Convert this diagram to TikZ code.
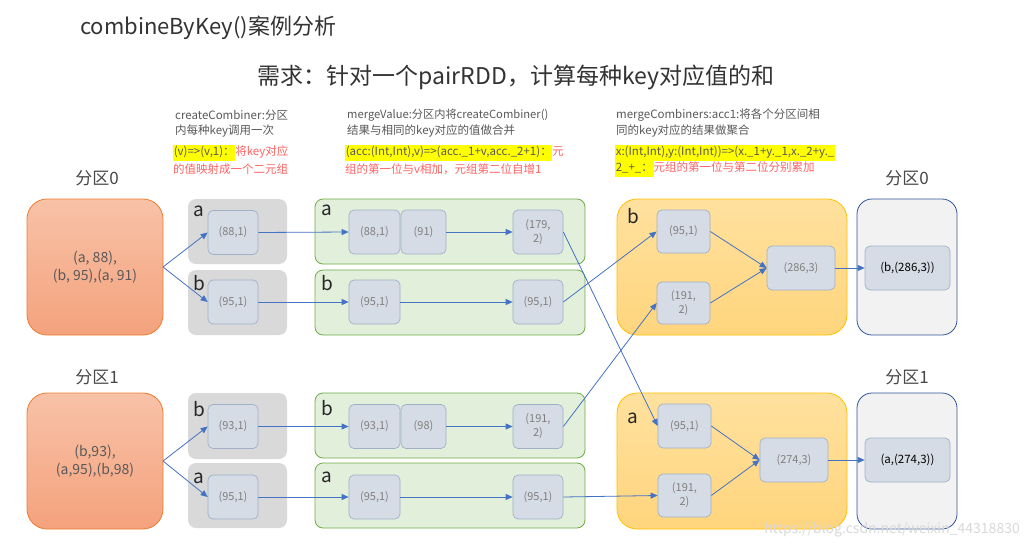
\documentclass[tikz,border=0pt]{standalone}
\usepackage{fontspec}
\setmainfont{Noto Sans CJK SC}
\usetikzlibrary{arrows.meta}
\definecolor{orBorder}{HTML}{ED7D31}
\definecolor{orTop}{HTML}{F8C2A8}
\definecolor{orBot}{HTML}{F4A27C}
\definecolor{grFill}{HTML}{D9D9D9}
\definecolor{gnFill}{HTML}{E2EFDA}
\definecolor{gnBorder}{HTML}{70AD47}
\definecolor{yeTop}{HTML}{FFE19E}
\definecolor{yeBot}{HTML}{FFD57D}
\definecolor{yeBorder}{HTML}{FFC000}
\definecolor{rtFill}{HTML}{F2F2F2}
\definecolor{rtBorder}{HTML}{2F5597}
\definecolor{itFill}{HTML}{D6DCE5}
\definecolor{itBorder}{HTML}{A0B0C8}
\definecolor{itText}{HTML}{7F7F7F}
\definecolor{arrCol}{HTML}{4472C4}
\definecolor{descCol}{HTML}{595959}
\definecolor{redTxt}{HTML}{FF6363}
\definecolor{hiYel}{HTML}{FFFF00}
\definecolor{wmCol}{HTML}{D9D9D9}
\setlength{\fboxsep}{0.6pt}
\newcommand{\hlt}[1]{\colorbox{hiYel}{\strut #1}}
\begin{document}
\begin{tikzpicture}[x=1pt,y=-1pt,
  container/.style={anchor=north west, inner sep=0pt, outer sep=0pt},
  orangebox/.style={container, draw=orBorder, line width=0.8pt, rounded corners=20pt,
     top color=orTop, bottom color=orBot, minimum width=136pt, minimum height=136pt,
     text=descCol, font=\fontsize{14}{18}\selectfont, align=center},
  graybox/.style={container, fill=grFill, rounded corners=8pt, minimum width=99pt, minimum height=65pt},
  greenbox/.style={container, fill=gnFill, draw=gnBorder, line width=0.8pt, rounded corners=8pt,
     minimum width=270pt, minimum height=65pt},
  yellowbox/.style={container, top color=yeTop, bottom color=yeBot, draw=yeBorder, line width=0.8pt,
     rounded corners=20pt, minimum width=230pt, minimum height=136pt},
  rightbox/.style={container, fill=rtFill, draw=rtBorder, line width=0.8pt, rounded corners=15pt,
     minimum width=100pt, minimum height=136pt},
  item/.style={fill=itFill, draw=itBorder, line width=0.7pt, rounded corners=5pt, inner sep=1pt,
     minimum width=50pt, minimum height=44pt, text=itText, font=\fontsize{11}{14}\selectfont, align=center},
  resitem/.style={item, minimum width=85pt, text=black, font=\fontsize{11.5}{14}\selectfont},
  lbl/.style={inner sep=0pt, font=\fontsize{19}{19}\selectfont, text=black!85},
  part/.style={inner sep=0pt, font=\fontsize{17}{17}\selectfont, text=descCol!80!black},
  desc/.style={anchor=west, inner sep=0pt, font=\fontsize{11.5}{14}\selectfont, text=descCol},
  arr/.style={draw=arrCol, line width=0.8pt, -{Triangle[length=7pt,width=6pt]}}
]
\path[fill=white, use as bounding box] (0,0) rectangle (1029,549);

% titles
\node[anchor=west, inner sep=0pt, font=\fontsize{22}{22}\selectfont, text=black!80] (title) at (80,28) {combineByKey()案例分析};
\node[inner sep=0pt, font=\fontsize{23}{23}\selectfont, text=black!80] (req) at (516,77) {需求：针对一个pairRDD，计算每种key对应值的和};

% descriptions
\node[desc] (d1a) at (175,115) {createCombiner:分区};
\node[desc] (d1b) at (175,131) {内每种key调用一次};
\node[desc] (d1c) at (173,153) {\hlt{(v)=>(v,1)：}\textcolor{redTxt}{将key对应}};
\node[desc, text=redTxt] (d1d) at (173,169) {的值映射成一个二元组};

\node[desc, font=\fontsize{11.2}{14}\selectfont] (d2a) at (347,115) {mergeValue:分区内将createCombiner()};
\node[desc] (d2b) at (347,131) {结果与相同的key对应的值做合并};
\node[desc] (d2c) at (345,153) {\hlt{(acc:(Int,Int),v)=>(acc.\_1+v,acc.\_2+1)：}\textcolor{redTxt}{元}};
\node[desc, text=redTxt] (d2d) at (345,169) {组的第一位与v相加，元组第二位自增1};

\node[desc] (d3a) at (616,115) {mergeCombiners:acc1:将各个分区间相};
\node[desc] (d3b) at (616,131) {同的key对应的结果做聚合};
\node[desc] (d3c) at (615,153) {\hlt{x:(Int,Int),y:(Int,Int))=>(x.\_1+y.\_1,x.\_2+y.\_}};
\node[desc] (d3d) at (615,169) {\hlt{2\_+\_：}\textcolor{redTxt}{元组的第一位与第二位分别累加}};

% partition labels
\node[part] (p0l) at (97,178) {分区0};
\node[part] (p1l) at (97,377) {分区1};
\node[part] (p0r) at (907,178) {分区0};
\node[part] (p1r) at (907,377) {分区1};

% ===== partition 0 =====
\node[orangebox] (src0) at (27,199) {(a, 88),\\(b, 95),(a, 91)};
\node[graybox] (g0a) at (188,199) {};
\node[graybox] (g0b) at (188,270) {};
\node[lbl] (lg0a) at (199,211) {a};
\node[lbl] (lg0b) at (199,283) {b};
\node[item] (n1) at (233,232.5) {(88,1)};
\node[item] (n2) at (233,302) {(95,1)};

\node[greenbox] (gr0a) at (315,199) {};
\node[greenbox] (gr0b) at (315,270) {};
\node[lbl] (lgr0a) at (327,210) {a};
\node[lbl] (lgr0b) at (327,283) {b};
\node[item, minimum width=51pt] (m1) at (374.5,232) {(88,1)};
\node[item, minimum width=45pt] (m2) at (423.5,232) {(91)};
\node[item] (m3) at (538,232) {(179,\\2)};
\node[item, minimum width=51pt] (m4) at (374.5,302) {(95,1)};
\node[item] (m5) at (538,302) {(95,1)};

\node[yellowbox] (ye0) at (617,199) {};
\node[lbl] (lye0) at (633,216) {b};
\node[item, minimum width=53pt, minimum height=43pt] (y1) at (683.5,231.5) {(95,1)};
\node[item, minimum width=53pt, minimum height=42pt] (y2) at (683.5,303) {(191,\\2)};
\node[item, minimum width=68pt] (y3) at (801,268) {(286,3)};

\node[rightbox] (rt0) at (857,199) {};
\node[resitem] (res0) at (907.5,268) {(b,(286,3))};

% ===== partition 1 =====
\node[orangebox] (src1) at (27,393) {(b,93),\\(a,95),(b,98)};
\node[graybox, minimum height=66pt] (g1b) at (188,393) {};
\node[graybox] (g1a) at (188,463) {};
\node[lbl] (lg1b) at (199,409) {b};
\node[lbl] (lg1a) at (199,478) {a};
\node[item] (p1) at (233,426.5) {(93,1)};
\node[item] (p2) at (233,497) {(95,1)};

\node[greenbox] (gr1b) at (315,393) {};
\node[greenbox] (gr1a) at (315,463) {};
\node[lbl] (lgr1b) at (327,408) {b};
\node[lbl] (lgr1a) at (327,477) {a};
\node[item, minimum width=51pt] (q1) at (374.5,426.5) {(93,1)};
\node[item, minimum width=45pt] (q2) at (423.5,426.5) {(98)};
\node[item] (q3) at (538,426.5) {(191,\\2)};
\node[item, minimum width=51pt] (q4) at (374.5,497) {(95,1)};
\node[item] (q5) at (538,497) {(95,1)};

\node[yellowbox] (ye1) at (617,393) {};
\node[lbl] (lye1) at (633,418) {a};
\node[item, minimum width=53pt] (z1) at (684.5,426) {(95,1)};
\node[item, minimum width=53pt, minimum height=43pt] (z2) at (684.5,495.5) {(191,\\2)};
\node[item, minimum width=68pt] (z3) at (794,460) {(274,3)};

\node[rightbox] (rt1) at (857,393) {};
\node[resitem] (res1) at (907.5,460) {(a,(274,3))};

% ===== arrows =====
\draw[arr] (src0.east) -- (n1.west);
\draw[arr] (src0.east) -- (n2.west);
\draw[arr] (n1.east) -- (m1.west);
\draw[arr] (m2.east) -- (m3.west);
\draw[arr] (n2.east) -- (m4.west);
\draw[arr] (m4.east) -- (m5.west);

\draw[arr] (src1.east) -- (p1.west);
\draw[arr] (src1.east) -- (p2.west);
\draw[arr] (p1.east) -- (q1.west);
\draw[arr] (q2.east) -- (q3.west);
\draw[arr] (p2.east) -- (q4.west);
\draw[arr] (q4.east) -- (q5.west);

\draw[arr] (m3.east) -- (z1.west);
\draw[arr] (m5.east) -- (y1.west);
\draw[arr] (q3.east) -- (y2.west);
\draw[arr] (q5.east) -- (z2.west);

\draw[arr] (y1.east) -- (y3.west);
\draw[arr] (y2.east) -- (y3.west);
\draw[arr] (y3.east) -- (res0.west);
\draw[arr] (z1.east) -- (z3.west);
\draw[arr] (z2.east) -- (z3.west);
\draw[arr] (z3.east) -- (res1.west);

% watermark
\node[anchor=east, inner sep=0pt, text=wmCol, font=\fontsize{14}{14}\selectfont] (wm) at (1020,530) {https://blog.csdn.net/weixin\_44318830};
\end{tikzpicture}
\end{document}
